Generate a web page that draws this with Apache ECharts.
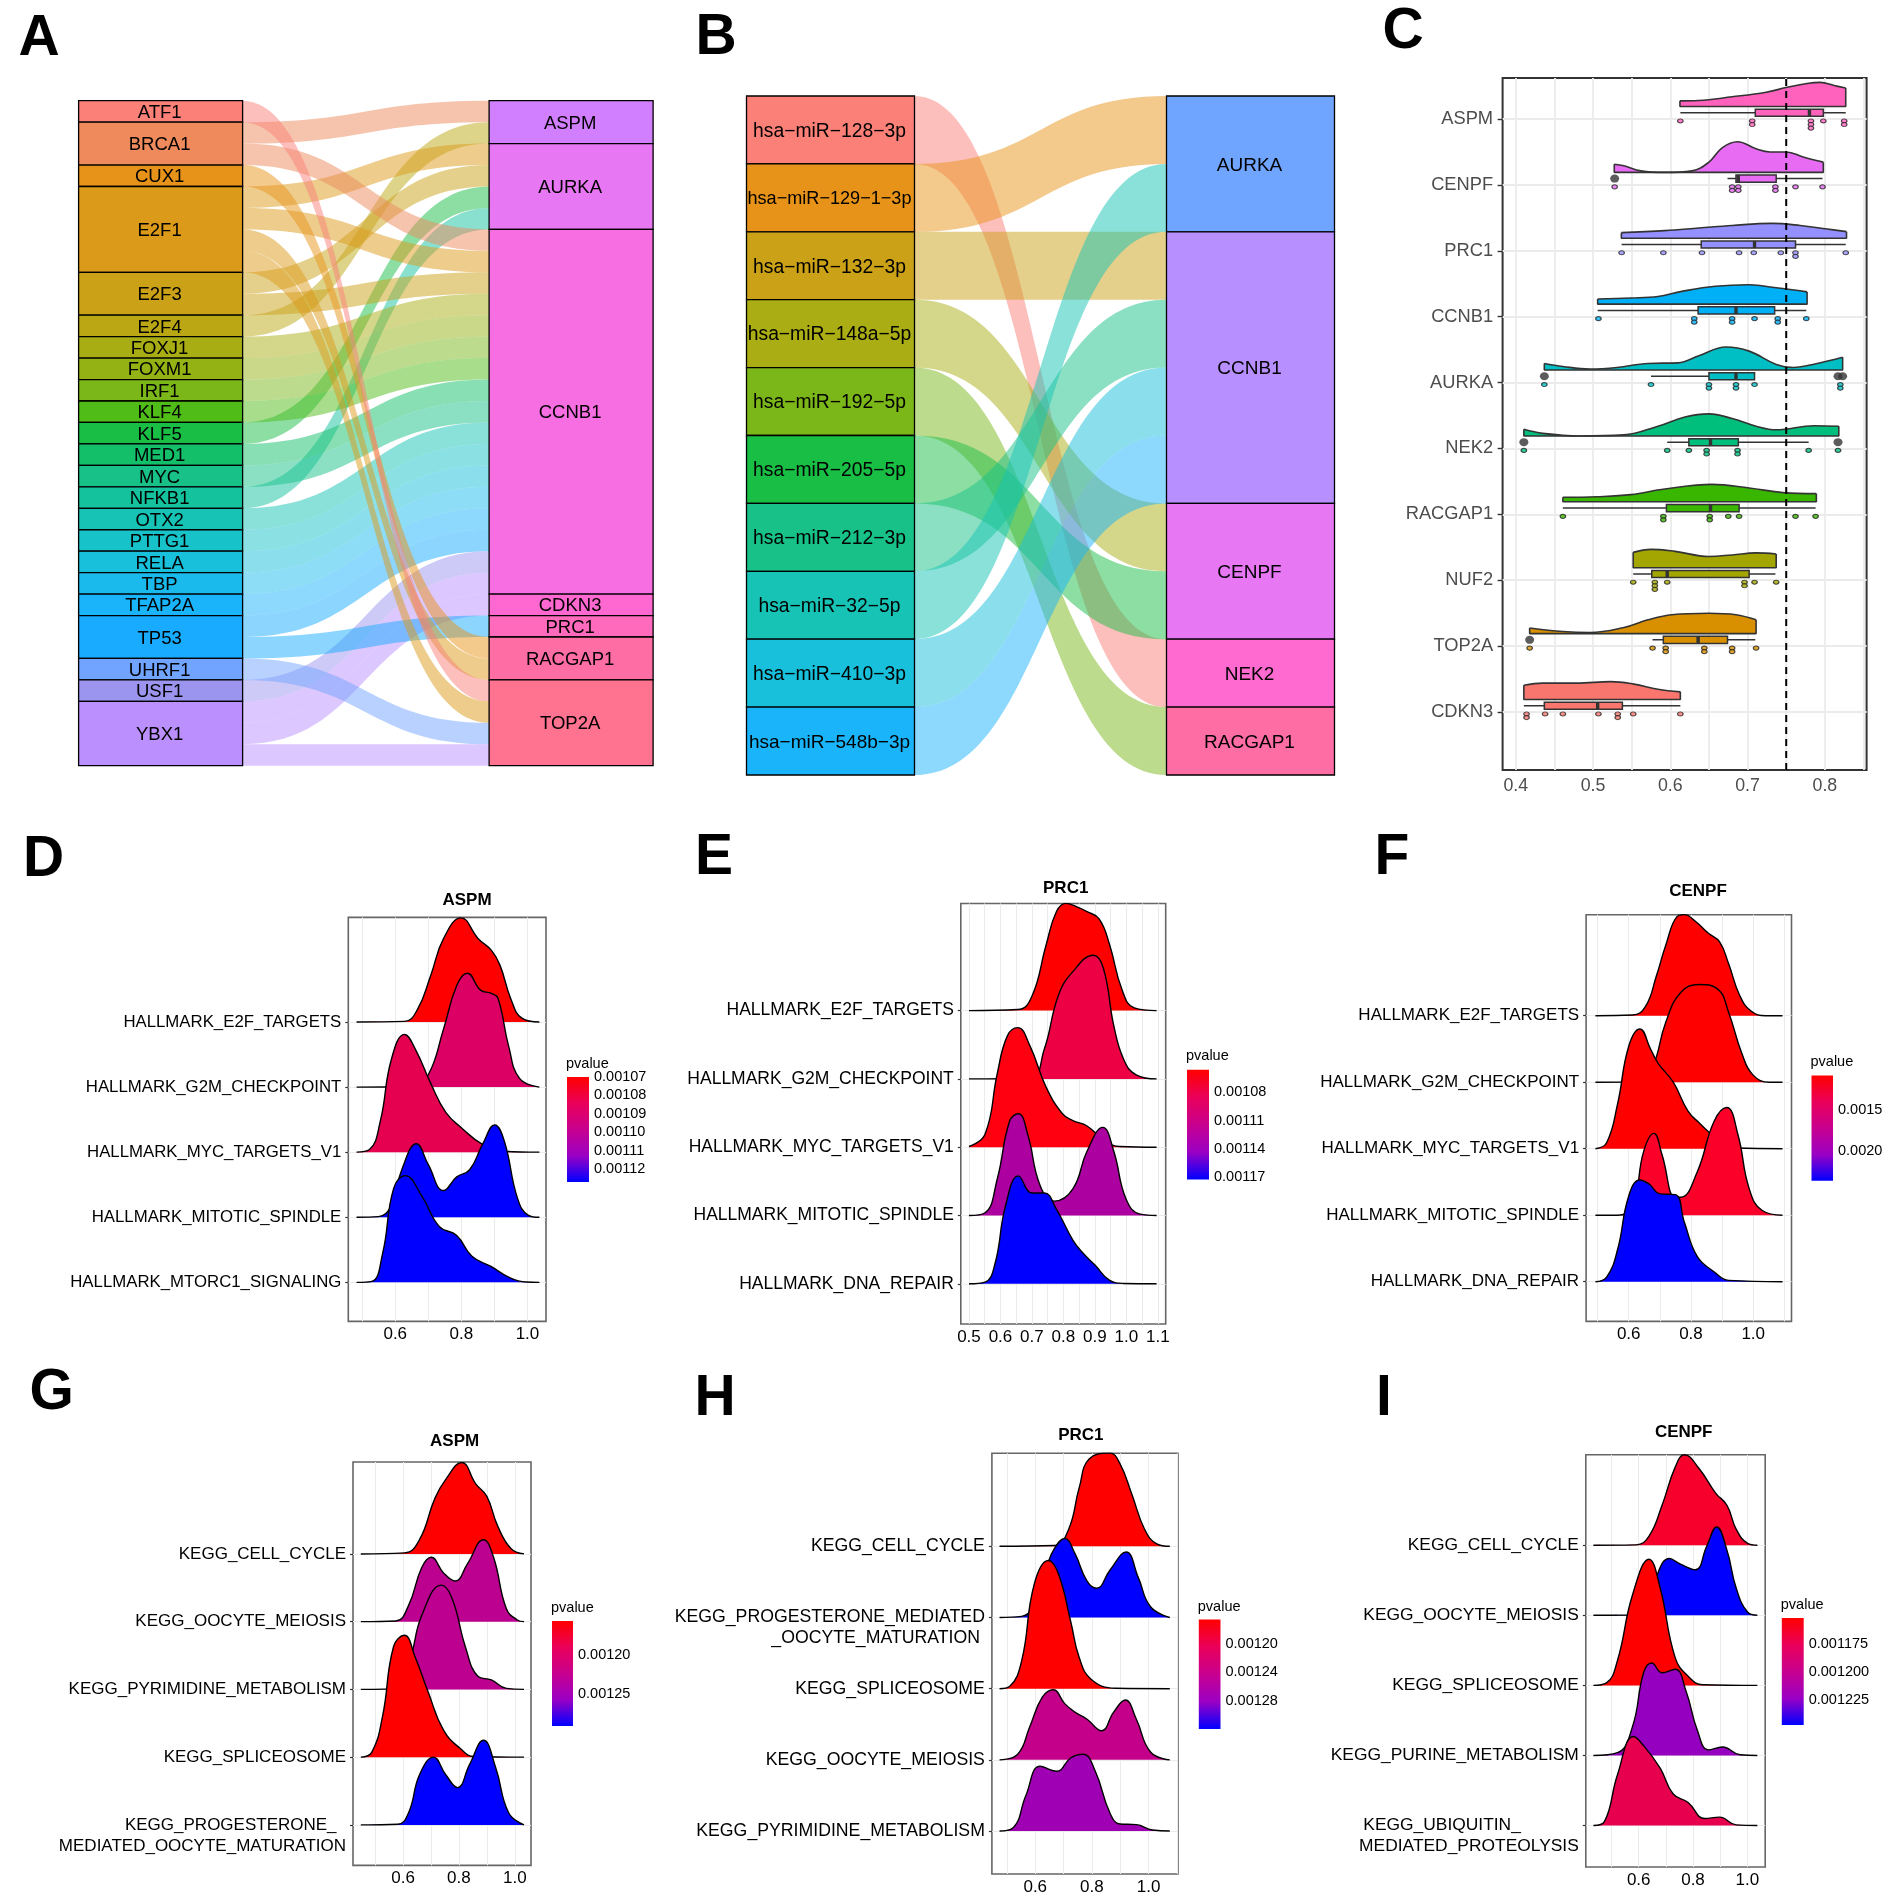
<!DOCTYPE html>
<html><head><meta charset="utf-8">
<style>html,body{margin:0;padding:0;background:#fff}#c{width:1890px;height:1901px}</style>
<script src="https://cdn.jsdelivr.net/npm/echarts@6/dist/echarts.min.js"></script>
</head><body><div id="c"></div>
<script>
/* ---------- DATA ---------- */
const A_LEFT = ['ATF1','BRCA1','CUX1','E2F1','E2F3','E2F4','FOXJ1','FOXM1','IRF1','KLF4','KLF5','MED1','MYC','NFKB1','OTX2','PTTG1','RELA','TBP','TFAP2A','TP53','UHRF1','USF1','YBX1'];
const A_LEFT_COLORS = ['#FA8078','#EE8A5C','#E7931A','#DB9A19','#CBA118','#BBA714','#A9AD14','#95B215','#7CB71A','#4FBC18','#19BE45','#13BF69','#17C187','#15C29E','#16C3B5','#18C2C9','#18C0DB','#1ABBEC','#1AB4FB','#18ABFF','#71A4FF','#9C95F0','#BC8FFF'];
const A_RIGHT = ['ASPM','AURKA','CCNB1','CDKN3','PRC1','RACGAP1','TOP2A'];
const A_RIGHT_COLORS = ['#D27FFF','#E877F3','#F76EE3','#FF68D0','#FF6ABC','#FF6DA5','#FF7290'];
const A_LINKS = [['BRCA1','ASPM'],['E2F4','ASPM'],['E2F1','AURKA'],['E2F3','AURKA'],['KLF5','AURKA'],['NFKB1','AURKA'],
 ['BRCA1','CCNB1'],['E2F1','CCNB1'],['E2F3','CCNB1'],['FOXJ1','CCNB1'],['FOXM1','CCNB1'],['IRF1','CCNB1'],['KLF4','CCNB1'],['MED1','CCNB1'],['MYC','CCNB1'],['OTX2','CCNB1'],['PTTG1','CCNB1'],['RELA','CCNB1'],['TBP','CCNB1'],['TFAP2A','CCNB1'],['TP53','CCNB1'],['USF1','CCNB1'],['YBX1','CCNB1'],
 ['YBX1','CDKN3'],['TP53','PRC1'],['CUX1','RACGAP1'],['E2F1','RACGAP1'],['ATF1','TOP2A'],['E2F1','TOP2A'],['UHRF1','TOP2A'],['YBX1','TOP2A']];

const B_LEFT = ['hsa\u2212miR\u2212128\u22123p','hsa\u2212miR\u2212129\u22121\u22123p','hsa\u2212miR\u2212132\u22123p','hsa\u2212miR\u2212148a\u22125p','hsa\u2212miR\u2212192\u22125p','hsa\u2212miR\u2212205\u22125p','hsa\u2212miR\u2212212\u22123p','hsa\u2212miR\u221232\u22125p','hsa\u2212miR\u2212410\u22123p','hsa\u2212miR\u2212548b\u22123p'];
const B_LEFT_COLORS = ['#FA8078','#E7931A','#CBA118','#AAAD14','#7CB71A','#19BE45','#17C187','#16C3B5','#18C0DB','#1AB4FB'];
const B_LEFT_FONT = [19.3,18.1,19.3,19.3,19.3,19.3,19.3,19.3,19.3,19];
const B_RIGHT = ['AURKA','CCNB1','CENPF','NEK2','RACGAP1'];
const B_RIGHT_COLORS = ['#6FA4FF','#B88FFF','#E877F3','#FF6AD0','#FF6DA5'];
const B_TARGETS = ['NEK2','AURKA','CCNB1','CENPF','RACGAP1','CENPF','CCNB1','AURKA','CCNB1','CCNB1'];

const C_GENES = ['CDKN3','TOP2A','NUF2','RACGAP1','NEK2','AURKA','CCNB1','PRC1','CENPF','ASPM'];
const C_COLORS = ['#F8766D','#D89000','#A3A500','#39B600','#00BF7D','#00BFC4','#00B0F6','#9590FF','#E76BF3','#FF62BC'];
const C_VIOLIN_CDKN3 = [[.4105,.217],[.435,.248],[.479,.248],[.523,.271],[.553,.233],[.584,.155],[.613,.116]];
const C_VIOLIN_TOP2A = [[.418,.085],[.461,.031],[.496,.016],[.54,.093],[.571,.209],[.602,.287],[.65,.31],[.685,.287],[.711,.209]];
const C_VIOLIN_NUF2 = [[.552,.233],[.575,.279],[.606,.248],[.65,.171],[.68,.194],[.711,.225],[.737,.209]];
const C_VIOLIN_RACGAP1 = [[.461,.07],[.505,.078],[.549,.109],[.593,.194],[.654,.264],[.702,.21],[.746,.14],[.789,.124]];
const C_VIOLIN_NEK2 = [[.4105,.10],[.435,.039],[.483,0],[.54,.016],[.584,.147],[.619,.287],[.65,.334],[.68,.264],[.711,.147],[.737,.093],[.786,.155],[.818,.147]];
const C_VIOLIN_AURKA = [[.437,.10],[.461,.054],[.496,.016],[.531,.039],[.571,.10],[.61,.109],[.637,.217],[.672,.349],[.702,.287],[.737,.085],[.759,.039],[.79,.10],[.823,.194]];
const C_VIOLIN_CCNB1 = [[.506,.078],[.549,.093],[.584,.116],[.615,.194],[.658,.271],[.702,.295],[.737,.248],[.777,.186]];
const C_VIOLIN_PRC1 = [[.5367,.085],[.593,.116],[.637,.155],[.68,.194],[.731,.225],[.768,.194],[.803,.14],[.828,.10]];
const C_VIOLIN_CENPF = [[.5275,.124],[.54,.10],[.562,.023],[.593,0],[.628,.023],[.65,.155],[.667,.372],[.687,.465],[.711,.357],[.729,.31],[.75,.31],[.772,.233],[.798,.155]];
const C_VIOLIN_ASPM = [[.6125,.085],[.6366,.09],[.68,.147],[.724,.217],[.75,.287],[.777,.349],[.794,.365],[.812,.318],[.827,.279]];
const C_VIOLINS = [C_VIOLIN_CDKN3,C_VIOLIN_TOP2A,C_VIOLIN_NUF2,C_VIOLIN_RACGAP1,C_VIOLIN_NEK2,C_VIOLIN_AURKA,C_VIOLIN_CCNB1,C_VIOLIN_PRC1,C_VIOLIN_CENPF,C_VIOLIN_ASPM];
/* row, q1, median, q3, whisker low, whisker high */
const C_BOXES = [[0,.437,.506,.538,.4105,.613],[1,.591,.636,.674,.577,.710],[2,.576,.596,.702,.552,.736],[3,.595,.652,.689,.461,.788],[4,.624,.652,.688,.596,.779],[5,.650,.685,.709,.575,.709],[6,.636,.685,.735,.506,.776],[7,.640,.709,.762,.537,.827],[8,.685,.688,.737,.674,.797],[9,.710,.780,.798,.613,.827]];
/* [value, row] */
const C_OUTLIERS = [[.528,8],[.437,5],[.817,5],[.823,5],[.4105,4],[.817,4],[.418,1]];
/* [value, how many stacked dots] */
const C_DOTS_CDKN3 = [[.414,2],[.438,1],[.461,1],[.507,1],[.532,2],[.552,1],[.613,1]];
const C_DOTS_TOP2A = [[.418,1],[.577,1],[.594,2],[.644,2],[.68,2],[.711,1]];
const C_DOTS_NUF2 = [[.552,1],[.58,3],[.596,1],[.696,2],[.709,1],[.737,1]];
const C_DOTS_RACGAP1 = [[.461,1],[.591,2],[.651,2],[.675,1],[.689,1],[.762,1],[.788,1]];
const C_DOTS_NEK2 = [[.4105,1],[.596,1],[.624,1],[.647,2],[.687,2],[.779,1],[.817,1]];
const C_DOTS_AURKA = [[.437,1],[.575,1],[.65,2],[.685,2],[.709,1],[.82,2]];
const C_DOTS_CCNB1 = [[.507,1],[.631,2],[.68,2],[.709,1],[.739,2],[.776,1]];
const C_DOTS_PRC1 = [[.537,1],[.591,1],[.641,1],[.689,1],[.708,1],[.743,1],[.762,2],[.827,1]];
const C_DOTS_CENPF = [[.528,1],[.68,2],[.688,2],[.736,2],[.762,1],[.797,1]];
const C_DOTS_ASPM = [[.613,1],[.706,2],[.782,3],[.798,1],[.825,2]];
const C_DOTS = [C_DOTS_CDKN3,C_DOTS_TOP2A,C_DOTS_NUF2,C_DOTS_RACGAP1,C_DOTS_NEK2,C_DOTS_AURKA,C_DOTS_CCNB1,C_DOTS_PRC1,C_DOTS_CENPF,C_DOTS_ASPM];
const C_CUTOFF = 0.75;

/* ridge curves: [enrichment score, height in row units] */
const HALLMARK_A = ['HALLMARK_E2F_TARGETS','HALLMARK_G2M_CHECKPOINT','HALLMARK_MYC_TARGETS_V1','HALLMARK_MITOTIC_SPINDLE'];
const D_ROWS = [...HALLMARK_A,'HALLMARK_MTORC1_SIGNALING'];
const D_E2F = [[.483,0],[.628,.01],[.667,.19],[.707,.71],[.746,1.28],[.799,1.6],[.851,1.28],[.891,1.10],[.917,.87],[.95,.35],[.983,.06],[1.036,0]];
const D_G2M = [[.483,0],[.654,.01],[.7,.19],[.746,.89],[.786,1.56],[.818,1.75],[.858,1.49],[.891,1.44],[.911,1.36],[.943,.63],[.976,.135],[1.036,0]];
const D_MYC = [[.483,0],[.522,.04],[.555,.48],[.588,1.42],[.628,1.81],[.661,1.58],[.707,1.06],[.753,.61],[.799,.38],[.864,.12],[.93,.015],[1.036,0]];
const D_MIT = [[.483,0],[.549,.01],[.588,.18],[.621,.75],[.664,1.13],[.7,.81],[.746,.41],[.786,.62],[.825,.73],[.864,1.12],[.901,1.42],[.93,1.17],[.97,.29],[1.003,.03],[1.036,0]];
const D_MTORC = [[.483,0],[.529,.015],[.562,.45],[.595,1.44],[.63,1.64],[.68,1.33],[.733,.86],[.786,.72],[.832,.40],[.891,.24],[.943,.08],[.996,.005],[1.036,0]];
const D_FILLS = ['#FF0000','#DC0064','#E60050','#0000FF','#0000FF'];
const D_SCALE_TICKS = [.00107,.00108,.00109,.00110,.00111,.00112];

const E_ROWS = [...HALLMARK_A,'HALLMARK_DNA_REPAIR'];
const E_E2F = [[.5,0],[.655,.015],[.7,.21],[.745,.96],[.778,1.45],[.808,1.57],[.843,1.52],[.875,1.45],[.914,1.34],[.947,.96],[.986,.31],[1.025,.04],[1.096,0]];
const E_G2M = [[.5,0],[.694,.01],[.739,.43],[.784,1.22],[.83,1.57],[.895,1.81],[.927,1.62],[.96,.78],[.992,.28],[1.031,.06],[1.096,0]];
const E_MYC = [[.5,.01],[.551,.19],[.59,1.08],[.622,1.63],[.655,1.75],[.694,1.48],[.745,.88],[.797,.49],[.83,.39],[.875,.31],[.927,.11],[.979,.01],[1.096,0]];
const E_MIT = [[.5,0],[.551,.04],[.59,.54],[.629,1.38],[.657,1.49],[.687,1.18],[.726,.44],[.771,.21],[.83,.39],[.875,.94],[.925,1.29],[.96,.94],[.999,.24],[1.044,.02],[1.096,0]];
const E_DNA = [[.5,0],[.551,.025],[.583,.30],[.616,1.14],[.657,1.58],[.7,1.33],[.739,1.33],[.778,1.09],[.83,.64],[.862,.45],[.901,.27],[.947,.05],[.992,.005],[1.096,0]];
const E_FILLS = ['#FF0000','#EE0045','#FF0010','#AC00A0','#0000FF'];
const E_SCALE_TICKS = [.00108,.00111,.00114,.00117];

const F_ROWS = E_ROWS;
const F_E2F = [[.493,0],[.612,.01],[.654,.14],[.689,.6],[.719,1.06],[.755,1.49],[.779,1.52],[.814,1.42],[.856,1.24],[.892,1.11],[.921,.78],[.957,.30],[.993,.07],[1.04,0],[1.094,0]];
const F_G2M = [[.493,0],[.636,.005],[.677,.23],[.719,.9],[.767,1.35],[.826,1.47],[.886,1.40],[.921,1.05],[.963,.44],[.999,.11],[1.052,0],[1.094,0]];
const F_MYC = [[.493,0],[.529,.09],[.564,.67],[.6,1.54],[.636,1.80],[.671,1.49],[.695,1.28],[.743,1.0],[.79,.57],[.826,.39],[.886,.14],[.945,.01],[1.094,0]];
const F_MIT = [[.493,0],[.564,0],[.612,.14],[.648,.96],[.681,1.23],[.707,.91],[.749,.27],[.767,.27],[.82,.65],[.874,1.41],[.915,1.62],[.951,1.21],[.987,.40],[1.029,.07],[1.094,0]];
const F_DNA = [[.493,0],[.529,.07],[.564,.48],[.6,1.29],[.636,1.53],[.665,1.47],[.701,1.32],[.749,1.31],[.779,.89],[.82,.38],[.874,.15],[.921,.02],[1.094,0]];
const F_FILLS = ['#FF0000','#FF0000','#FF0000','#FB0028','#0000FF'];
const F_SCALE_TICKS = [.0015,.0020];

const G_ROWS = ['KEGG_CELL_CYCLE','KEGG_OOCYTE_MEIOSIS','KEGG_PYRIMIDINE_METABOLISM','KEGG_SPLICEOSOME','\nKEGG_PROGESTERONE_\u00a0\u00a0\nMEDIATED_OOCYTE_MATURATION'];
const G_CELL = [[.449,0],[.605,.015],[.659,.21],[.714,.82],[.753,1.10],[.81,1.35],[.861,1.03],[.9,.85],[.939,.41],[.986,.08],[1.033,0]];
const G_OOC = [[.449,0],[.574,.01],[.62,.24],[.667,.80],[.701,.95],[.745,.72],[.787,.6],[.83,.85],[.888,1.21],[.924,.95],[.97,.19],[1.009,.025],[1.033,0]];
const G_PYR = [[.449,0],[.589,.015],[.628,.47],[.667,1.09],[.737,1.54],[.776,1.34],[.823,.63],[.869,.19],[.916,.14],[.97,.015],[1.033,0]];
const G_SPL = [[.449,0],[.488,.07],[.527,.61],[.566,1.63],[.605,1.80],[.644,1.47],[.69,.96],[.745,.40],[.807,.12],[.854,.01],[1.033,0]];
const G_PROG = [[.449,0],[.581,.01],[.62,.18],[.659,.74],[.709,1.0],[.753,.74],[.795,.55],[.838,.89],[.888,1.25],[.932,.84],[.978,.18],[1.033,0]];
const G_FILLS = ['#FF0000','#BC0090','#BD0090','#FF0000','#0000FF'];
const G_SCALE_TICKS = [.00120,.00125];

const H_ROWS = ['KEGG_CELL_CYCLE','\nKEGG_PROGESTERONE_MEDIATED\n_OOCYTE_MATURATION\u00a0','KEGG_SPLICEOSOME','KEGG_OOCYTE_MEIOSIS','KEGG_PYRIMIDINE_METABOLISM'];
const H_CELL = [[.474,0],[.668,.01],[.718,.24],[.755,.82],[.791,1.23],[.863,1.31],[.899,1.16],[.942,.72],[.986,.24],[1.029,.035],[1.075,0]];
const H_PROG = [[.474,0],[.552,.015],[.588,.12],[.639,.70],[.668,.97],[.704,1.11],[.74,.9],[.783,.51],[.817,.41],[.863,.66],[.921,.92],[.964,.56],[1.007,.15],[1.075,0]];
const H_SPL = [[.474,0],[.509,.03],[.552,.39],[.596,1.46],[.646,1.80],[.682,1.61],[.726,.93],[.755,.44],[.798,.13],[.884,.005],[1.075,0]];
const H_OOC = [[.474,0],[.538,.08],[.581,.47],[.625,.88],[.664,.985],[.704,.79],[.74,.67],[.783,.57],[.834,.41],[.877,.67],[.918,.84],[.957,.57],[1.007,.11],[1.075,0]];
const H_PYR = [[.474,0],[.523,.05],[.567,.5],[.617,.91],[.675,.84],[.726,1.03],[.769,1.08],[.812,.84],[.863,.26],[.899,.10],[.957,.09],[1.014,.015],[1.075,0]];
const H_FILLS = ['#FF0000','#0000FF','#FF0000','#C4008A','#A000B4'];
const H_SCALE_TICKS = [.00120,.00124,.00128];

const I_ROWS = ['KEGG_CELL_CYCLE','KEGG_OOCYTE_MEIOSIS','KEGG_SPLICEOSOME','KEGG_PURINE_METABOLISM','\nKEGG_UBIQUITIN_\u00a0\u00a0\u00a0\u00a0\u00a0\u00a0\u00a0\u00a0\u00a0\u00a0\u00a0\u00a0\nMEDIATED_PROTEOLYSIS'];
const I_CELL = [[.433,0],[.59,.005],[.638,.13],[.686,.57],[.734,1.11],[.768,1.29],[.823,1.09],[.884,.74],[.925,.57],[.959,.23],[1.0,.03],[1.037,0]];
const I_OOC = [[.433,0],[.618,.01],[.659,.49],[.713,.81],[.754,.73],[.809,.65],[.85,.98],[.887,1.26],[.925,.93],[.959,.39],[1.0,.05],[1.037,0]];
const I_SPL = [[.433,0],[.481,.035],[.522,.36],[.577,1.29],[.638,1.80],[.679,1.39],[.734,.40],[.782,.13],[.836,.01],[1.037,0]];
const I_PUR = [[.433,0],[.522,.04],[.577,.41],[.618,1.18],[.648,1.32],[.686,1.18],[.734,1.23],[.775,.91],[.816,.36],[.857,.08],[.909,.12],[.973,.01],[1.037,0]];
const I_UBI = [[.433,0],[.474,.06],[.522,.73],[.581,1.27],[.618,1.14],[.679,.82],[.727,.45],[.782,.33],[.843,.10],[.898,.12],[.959,.01],[1.037,0]];
const I_FILLS = ['#F8002C','#0000FF','#FF0000','#9500C0','#E6004E'];
const I_SCALE_TICKS = [.001175,.0012,.001225];

const PVALUE_STOPS = ['#FF0000','#EA0059','#C8008F','#9B00C4','#0000FF'];

/* ---------- LAYOUT ---------- */
const FONT = '"Liberation Sans", Arial, sans-serif';
const LETTERS = [['A',18.5,39],['B',695.5,38],['C',1382.5,32],['D',23,860],['E',695,858],['F',1374.5,858],['G',29.5,1393],['H',694.5,1399],['I',1376,1399]];
const PANELS = [
 {key:'D',title:'ASPM',tx:467,ty:900,rows:D_ROWS,curves:[D_E2F,D_G2M,D_MYC,D_MIT,D_MTORC],fills:D_FILLS,l:348.3,r:546,t:917.4,b:1321.4,x0:.458,x1:1.056,y0:-.6,y1:5.607,grid:[.5,.6,.7,.8,.9,1],labs:[.6,.8,1],fs:16.8,
  leg:{l:567,r:589,t:1077,b:1182,min:.00107,max:.001127,ticks:D_SCALE_TICKS,dec:5,tx:566,ty:1064}},
 {key:'E',title:'PRC1',tx:1065.7,ty:888,rows:E_ROWS,curves:[E_E2F,E_G2M,E_MYC,E_MIT,E_DNA],fills:E_FILLS,l:960.8,r:1165.7,t:903.5,b:1324,x0:.474,x1:1.125,y0:-.589,y1:5.568,grid:[.5,.55,.6,.65,.7,.75,.8,.85,.9,.95,1,1.05,1.1],labs:[.5,.6,.7,.8,.9,1,1.1],fs:17.5,
  leg:{l:1187,r:1209,t:1069.8,b:1179.5,min:.001056,max:.0011727,ticks:E_SCALE_TICKS,dec:5,tx:1186,ty:1056}},
 {key:'F',title:'CENPF',tx:1698,ty:891,rows:F_ROWS,curves:[F_E2F,F_G2M,F_MYC,F_MIT,F_DNA],fills:F_FILLS,l:1586.1,r:1791.5,t:914.7,b:1321.4,x0:.463,x1:1.123,y0:-.597,y1:5.519,grid:[.5,.6,.7,.8,.9,1,1.1],labs:[.6,.8,1],fs:17,
  leg:{l:1811.5,r:1833,t:1075.5,b:1180.8,min:.001067,max:.002373,ticks:F_SCALE_TICKS,dec:4,tx:1810.5,ty:1062}},
 {key:'G',title:'ASPM',tx:454.6,ty:1441.6,rows:G_ROWS,curves:[G_CELL,G_OOC,G_PYR,G_SPL,G_PROG],fills:G_FILLS,l:353,r:531,t:1462,b:1865.4,x0:.421,x1:1.058,y0:-.598,y1:5.357,grid:[.5,.6,.7,.8,.9,1],labs:[.6,.8,1],fs:17,
  leg:{l:552,r:573,t:1621,b:1726,min:.001156,max:.001292,ticks:G_SCALE_TICKS,dec:5,tx:551,ty:1608}},
 {key:'H',title:'PRC1',tx:1080.9,ty:1435.7,rows:H_ROWS,curves:[H_CELL,H_PROG,H_SPL,H_OOC,H_PYR],fills:H_FILLS,l:991.9,r:1178,t:1453.3,b:1874,x0:.447,x1:1.104,y0:-.603,y1:5.306,grid:[.5,.6,.7,.8,.9,1,1.1],labs:[.6,.8,1],fs:17.7,
  leg:{l:1198.8,r:1220.5,t:1619.6,b:1729,min:.001166,max:.00132,ticks:H_SCALE_TICKS,dec:5,tx:1197.8,ty:1606.5}},
 {key:'I',title:'CENPF',tx:1683.7,ty:1431.9,rows:I_ROWS,curves:[I_CELL,I_OOC,I_SPL,I_PUR,I_UBI],fills:I_FILLS,l:1585.8,r:1765.2,t:1454.7,b:1867,x0:.405,x1:1.066,y0:-.591,y1:5.291,grid:[.5,.6,.7,.8,.9,1],labs:[.6,.8,1],fs:17.4,
  leg:{l:1781.8,r:1803.7,t:1617.9,b:1725,min:.001152,max:.001247,ticks:I_SCALE_TICKS,dec:6,tx:1780.8,ty:1605}}
];

/* ---------- BUILD ---------- */
const grids=[],xAxes=[],yAxes=[],series=[],titles=[];
const GRID_LINE='#EBEBEB';

LETTERS.forEach(([t,x,y])=>titles.push({text:t,left:x,top:y,padding:0,textVerticalAlign:'middle',textStyle:{fontFamily:FONT,fontSize:57,fontWeight:'bold',color:'#000'}}));

function sankey(left,top,width,height,nodeW,nodes,links,fs){
  series.push({type:'sankey',left,top,width,height,nodeWidth:nodeW,nodeGap:0,layoutIterations:0,nodeAlign:'justify',draggable:false,silent:true,
    data:nodes,links,label:{show:true,position:'inside',offset:[-1,1.5],color:'#000',fontFamily:FONT,fontSize:fs},
    itemStyle:{borderColor:'#000',borderWidth:1.3,opacity:1},
    lineStyle:{color:'source',curveness:.5,opacity:.5},emphasis:{disabled:true}});
}
sankey(78.6,100.7,574.5,665,164,
  A_LEFT.map((n,i)=>({name:n,itemStyle:{color:A_LEFT_COLORS[i]}})).concat(A_RIGHT.map((n,i)=>({name:n,itemStyle:{color:A_RIGHT_COLORS[i]}}))),
  A_LINKS.map(([s,t])=>({source:s,target:t,value:1})),18.5);
sankey(746.5,96,588,679,168,
  B_LEFT.map((n,i)=>({name:n,label:{fontSize:B_LEFT_FONT[i]},itemStyle:{color:B_LEFT_COLORS[i]}})).concat(B_RIGHT.map((n,i)=>({name:n,itemStyle:{color:B_RIGHT_COLORS[i]}}))),
  B_LEFT.map((n,i)=>({source:n,target:B_TARGETS[i],value:1})),19);

/* Panel C */
(function(){
  const g=grids.length;
  const Y0=-.88,Y1=9.622;
  const rowsTick=C_GENES.map((_,i)=>i);
  grids.push({left:1502.6,top:78,width:364,height:692,show:true,borderColor:'#333',borderWidth:2,backgroundColor:'#fff',z:0});
  xAxes.push({type:'value',gridIndex:g,min:.383,max:.854,axisLine:{show:false},
    axisTick:{show:false,customValues:[.4,.45,.5,.55,.6,.65,.7,.75,.8,.85]},
    axisLabel:{customValues:[.4,.5,.6,.7,.8],formatter:v=>v.toFixed(1),color:'#4D4D4D',fontFamily:FONT,fontSize:17.8,margin:7},
    splitLine:{show:true,lineStyle:{color:GRID_LINE,width:1.8}}});
  yAxes.push({type:'value',gridIndex:g,min:Y0,max:Y1,axisLine:{show:false},
    axisTick:{show:true,length:5,lineStyle:{color:'#333',width:1.4},customValues:rowsTick},
    axisLabel:{customValues:rowsTick,formatter:v=>C_GENES[Math.round(v)],color:'#4D4D4D',fontFamily:FONT,fontSize:18.3,margin:9.5},
    splitLine:{show:true,lineStyle:{color:GRID_LINE,width:1.8}}});
  const base=.19,boxC=.095,boxH=.054;
  C_VIOLINS.forEach((v,i)=>{
    const b=i+base;
    series.push({type:'line',xAxisIndex:g,yAxisIndex:g,z:3,silent:true,symbol:'none',smooth:.4,
      data:v.map(([x,h])=>[x,b+h]),lineStyle:{color:'#333',width:1.6},
      areaStyle:{color:C_COLORS[i],opacity:1,origin:b}});
    series.push({type:'line',xAxisIndex:g,yAxisIndex:g,z:3,silent:true,symbol:'none',
      data:[[v[0][0],b+v[0][1]],[v[0][0],b],[v[v.length-1][0],b],[v[v.length-1][0],b+v[v.length-1][1]]],
      lineStyle:{color:'#333',width:1.6}});
  });
  series.push({type:'custom',xAxisIndex:g,yAxisIndex:g,z:4,silent:true,data:C_BOXES,encode:{x:[1,2,3,4,5],y:0},
    renderItem(p,api){
      const r=api.value(0),q1=api.value(1),m=api.value(2),q3=api.value(3),lo=api.value(4),hi=api.value(5);
      const yc=api.coord([q1,r+boxC])[1],yt=api.coord([q1,r+boxC+boxH])[1],yb=api.coord([q1,r+boxC-boxH])[1];
      const X=v=>api.coord([v,r])[0];
      const line=(a,b,w)=>({type:'line',shape:{x1:X(a),y1:yc,x2:X(b),y2:yc},style:{stroke:'#333',lineWidth:w}});
      return {type:'group',children:[
        line(lo,hi,1.5),
        {type:'rect',shape:{x:X(q1),y:yt,width:X(q3)-X(q1),height:yb-yt},style:{fill:C_COLORS[r],stroke:'#333',lineWidth:1.5}},
        {type:'rect',shape:{x:X(m)-1.7,y:yt,width:3.4,height:yb-yt},style:{fill:'#333'}}
      ]};
    }});
  series.push({type:'scatter',xAxisIndex:g,yAxisIndex:g,z:5,silent:true,symbol:'circle',symbolSize:[9,8],
    data:C_OUTLIERS.map(([x,r])=>[x,r+boxC]),itemStyle:{color:'#333'}});
  C_DOTS.forEach((d,i)=>{
    const pts=[];
    d.forEach(([x,n])=>{for(let k=0;k<n;k++)pts.push([x,i-.03-.054*k]);});
    series.push({type:'scatter',xAxisIndex:g,yAxisIndex:g,z:5,silent:true,symbol:'circle',symbolSize:[5.5,4.2],data:pts,
      itemStyle:{color:C_COLORS[i],borderColor:'#222',borderWidth:1.1}});
  });
  series.push({type:'line',xAxisIndex:g,yAxisIndex:g,z:6,silent:true,symbol:'none',
    data:[[C_CUTOFF,Y0],[C_CUTOFF,Y1]],lineStyle:{color:'#000',type:[7,5],width:2}});
})();

/* Ridge panels and p-value scales */
PANELS.forEach(P=>{
  const g=grids.length;
  grids.push({left:P.l,top:P.t,width:P.r-P.l,height:P.b-P.t,show:true,borderColor:'#666',borderWidth:1.6,backgroundColor:'#fff',z:0});
  const n=P.rows.length,tickRows=P.rows.map((_,i)=>i);
  xAxes.push({type:'value',gridIndex:g,min:P.x0,max:P.x1,axisLine:{show:false},
    axisTick:{show:false,customValues:P.grid},
    axisLabel:{customValues:P.labs,formatter:v=>v.toFixed(1),color:'#000',fontFamily:FONT,fontSize:17,margin:4.5},
    splitLine:{show:true,lineStyle:{color:GRID_LINE,width:1}}});
  yAxes.push({type:'value',gridIndex:g,min:P.y0,max:P.y1,axisLine:{show:false},
    axisTick:{show:true,length:3,lineStyle:{color:'#333',width:1.2},customValues:tickRows},
    axisLabel:{customValues:tickRows,formatter:v=>P.rows[n-1-Math.round(v)],color:'#000',fontFamily:FONT,fontSize:P.fs,lineHeight:21,margin:7,align:'right'},
    splitLine:{show:true,lineStyle:{color:GRID_LINE,width:1}}});
  P.curves.forEach((c,i)=>{
    const b=n-1-i;
    series.push({type:'line',name:P.rows[i],xAxisIndex:g,yAxisIndex:g,z:3+i,silent:true,symbol:'none',smooth:.45,
      data:c.map(([x,h])=>[x,b+h]),lineStyle:{color:'#000',width:1.4},
      areaStyle:{color:P.fills[i],opacity:1,origin:b}});
  });
  titles.push({text:P.title,left:P.tx,top:P.ty,padding:0,textAlign:'center',textVerticalAlign:'middle',textStyle:{fontFamily:FONT,fontSize:17,fontWeight:'bold',color:'#000'}});
  const L=P.leg,h=grids.length;
  titles.push({text:'pvalue',left:L.tx,top:L.ty,padding:0,textVerticalAlign:'middle',textStyle:{fontFamily:FONT,fontSize:14.5,fontWeight:'normal',color:'#000'}});
  grids.push({left:L.l,top:L.t,width:L.r-L.l,height:L.b-L.t,show:false,z:0});
  xAxes.push({type:'value',gridIndex:h,min:0,max:1,show:false});
  yAxes.push({type:'value',gridIndex:h,min:L.min,max:L.max,inverse:true,position:'right',axisLine:{show:false},splitLine:{show:false},
    axisTick:{show:true,inside:true,length:4,lineStyle:{color:'#fff',width:1},customValues:L.ticks},
    axisLabel:{customValues:L.ticks,formatter:v=>v.toFixed(L.dec),color:'#000',fontFamily:FONT,fontSize:14.5,margin:5}});
  series.push({type:'custom',xAxisIndex:h,yAxisIndex:h,z:2,silent:true,data:[[0,1,L.min,L.max]],encode:{x:[0,1],y:[2,3]},
    renderItem(p,api){
      const a=api.coord([api.value(0),api.value(2)]),b=api.coord([api.value(1),api.value(3)]);
      return {type:'rect',shape:{x:a[0],y:a[1],width:b[0]-a[0],height:b[1]-a[1]},
        style:{fill:{type:'linear',x:0,y:0,x2:0,y2:1,colorStops:PVALUE_STOPS.map((c,i)=>({offset:i/(PVALUE_STOPS.length-1),color:c}))}}};
    }});
});

const chart=echarts.init(document.getElementById('c'),null,{width:1890,height:1901});
chart.setOption({animation:false,backgroundColor:'#fff',title:titles,grid:grids,xAxis:xAxes,yAxis:yAxes,series,tooltip:{show:false}});
</script></body></html>
